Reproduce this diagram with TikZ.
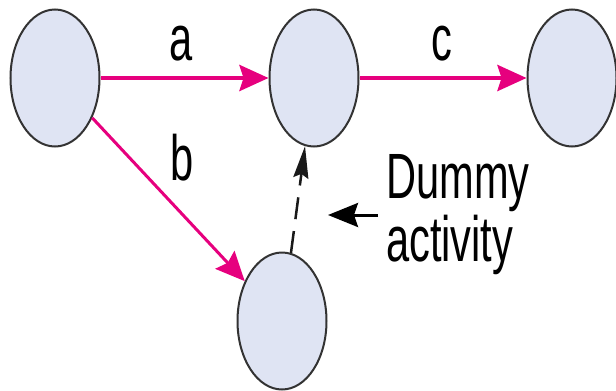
\documentclass[tikz,border=0pt]{standalone}
\usepackage{fontspec}
\setmainfont{Liberation Sans}
\newfontfamily\condfont[FakeStretch=0.65]{Liberation Sans}
\usetikzlibrary{arrows.meta,shapes.geometric}
\definecolor{actpink}{HTML}{E6007E}
\definecolor{eventfill}{HTML}{DFE4F3}

\begin{document}
\begin{tikzpicture}[x=1pt,y=-1pt,
  event/.style={ellipse,draw=black!80,line width=2pt,fill=eventfill,
    minimum width=89pt,minimum height=137pt,inner sep=0pt},
  act/.style={draw=actpink,line width=4pt,-{Stealth[length=29pt,width=26pt,inset=4pt]}},
  dummyact/.style={draw=black!90,line width=2.5pt,dash pattern=on 22pt off 12pt,
    -{Stealth[length=32pt,width=15pt,inset=4pt]}},
  lbl/.style={font=\condfont\fontsize{64}{63}\selectfont,inner sep=0pt}]
  \useasboundingbox (0,0) rectangle (616,391);
  % events
  \node[event] (n1) at (55,78) {};
  \node[event] (n2) at (314,78) {};
  \node[event] (n3) at (572,78) {};
  \node[event] (n4) at (282,321) {};
  % activities
  \draw[act] (n1) -- (n2);
  \draw[act] (n2) -- (n3);
  \draw[act,line width=3pt] (n1) -- (n4);
  \draw[dummyact] (n4) -- (n2);
  \node[lbl,anchor=base] (la) at (181,60) {a};
  \node[lbl,anchor=base] (lb) at (182,180) {b};
  \node[lbl,anchor=base] (lc) at (442,60) {c};
  % note on the dummy
  \node[lbl,align=left,anchor=west,inner xsep=8pt] (dummy) at (378,215) {Dummy\\activity};
  \coordinate (dtip) at (328,215);
  \draw[line width=3pt,-{Stealth[length=30pt,width=24pt,inset=4pt]}] (dummy.west) -- (dtip);
\end{tikzpicture}
\end{document}
